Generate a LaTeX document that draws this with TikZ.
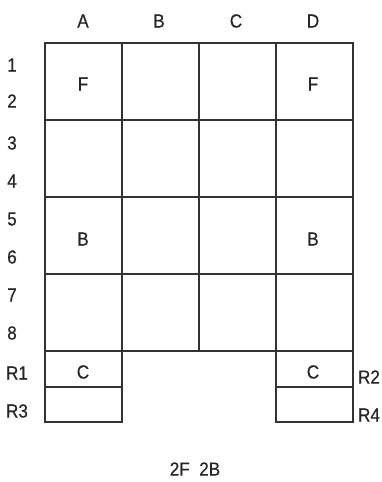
\documentclass[tikz,border=0pt]{standalone}
\usepackage{fontspec}
\setmainfont{Liberation Sans}[FakeStretch=0.9,FakeBold=0.5]
\begin{document}
\begin{tikzpicture}[x=1pt,y=-1pt,
  gridline/.style={draw=black!80, line width=1.6pt},
  lbl/.style={font=\fontsize{19}{19}\selectfont, text=black!85, inner sep=0pt, anchor=center}]
\useasboundingbox (0,0) rectangle (381,482);
% main grid
\draw[gridline] (45,43) rectangle (353,351);
\foreach \x in {122,199,276} \draw[gridline] (\x,43) -- (\x,351);
\foreach \y in {120,197,274} \draw[gridline] (45,\y) -- (353,\y);
% R boxes
\draw[gridline] (45,351) rectangle (122,422);
\draw[gridline] (45,387) -- (122,387);
\draw[gridline] (276,351) rectangle (353,422);
\draw[gridline] (276,387) -- (353,387);
% column labels
\node[lbl] (colA) at (83,21) {A};
\node[lbl] (colB) at (159,21) {B};
\node[lbl] (colC) at (236,21) {C};
\node[lbl] (colD) at (313,21) {D};
% row labels
\node[lbl] (r1) at (12,65) {1};
\node[lbl] (r2) at (12,101) {2};
\node[lbl] (r3) at (12,143) {3};
\node[lbl] (r4) at (12,181) {4};
\node[lbl] (r5) at (12,219) {5};
\node[lbl] (r6) at (12,257) {6};
\node[lbl] (r7) at (12,295) {7};
\node[lbl] (r8) at (12,333) {8};
\node[lbl] (R1) at (17,373) {R1};
\node[lbl] (R3) at (17,411) {R3};
\node[lbl] (R2) at (369,377) {R2};
\node[lbl] (R4) at (369,415) {R4};
% cell labels
\node[lbl] (fA) at (83,84) {F};
\node[lbl] (fD) at (313,84) {F};
\node[lbl] (bA) at (83,239) {B};
\node[lbl] (bD) at (313,239) {B};
\node[lbl] (cA) at (83,372) {C};
\node[lbl] (cD) at (313,372) {C};
% caption
\node[lbl] (cap) at (195,469) {2F\hspace{0.5em}2B};
\end{tikzpicture}
\end{document}
